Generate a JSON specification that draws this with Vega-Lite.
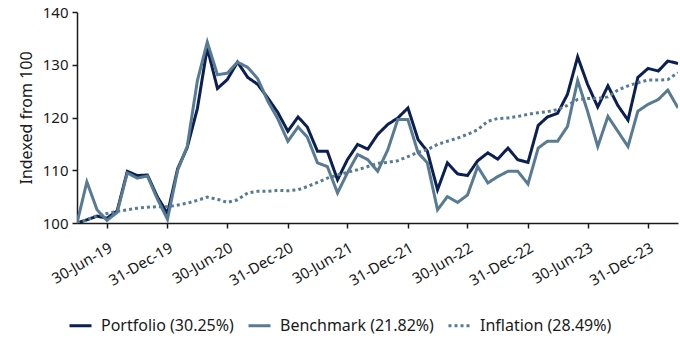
{
  "$schema": "https://vega.github.io/schema/vega-lite/v6.json",
  "width": 601,
  "height": 211,
  "autosize": {"type": "none"},
  "padding": {"left": 77, "top": 12, "right": 2, "bottom": 115},
  "background": "white",
  "config": {
    "font": "Noto Sans",
    "view": {"stroke": null},
    "axis": {"labelFont": "Noto Sans", "titleFont": "Noto Sans", "labelFontSize": 15, "titleFontSize": 16, "labelColor": "#1a1a1a", "titleColor": "#1a1a1a", "titleFontWeight": "normal", "domainColor": "#1a1a1a", "tickColor": "#1a1a1a", "domainWidth": 1.5, "tickWidth": 1.5, "grid": false}
  },
  "data": {
    "values": [
      {"date": "2019-03-31", "Portfolio": 100, "Benchmark": 100, "Inflation": 100},
      {"date": "2019-04-30", "Portfolio": 100.6, "Benchmark": 107.8, "Inflation": 100.6},
      {"date": "2019-05-31", "Portfolio": 101.3, "Benchmark": 102.5, "Inflation": 101.4},
      {"date": "2019-06-30", "Portfolio": 100.9, "Benchmark": 100.5, "Inflation": 101.8},
      {"date": "2019-07-31", "Portfolio": 102.3, "Benchmark": 102.0, "Inflation": 102.2},
      {"date": "2019-08-31", "Portfolio": 109.8, "Benchmark": 109.5, "Inflation": 102.5},
      {"date": "2019-09-30", "Portfolio": 109.0, "Benchmark": 108.5, "Inflation": 102.8},
      {"date": "2019-10-31", "Portfolio": 109.1, "Benchmark": 108.9, "Inflation": 103.0},
      {"date": "2019-11-30", "Portfolio": 105.0, "Benchmark": 104.6, "Inflation": 103.1},
      {"date": "2019-12-31", "Portfolio": 101.8, "Benchmark": 100.7, "Inflation": 103.1},
      {"date": "2020-01-31", "Portfolio": 110.3, "Benchmark": 110.0, "Inflation": 103.4},
      {"date": "2020-02-29", "Portfolio": 114.3, "Benchmark": 114.5, "Inflation": 103.75},
      {"date": "2020-03-31", "Portfolio": 121.7, "Benchmark": 127.0, "Inflation": 104.3},
      {"date": "2020-04-30", "Portfolio": 133.2, "Benchmark": 134.3, "Inflation": 104.9},
      {"date": "2020-05-31", "Portfolio": 125.5, "Benchmark": 128.1, "Inflation": 104.5},
      {"date": "2020-06-30", "Portfolio": 127.2, "Benchmark": 128.4, "Inflation": 103.9},
      {"date": "2020-07-31", "Portfolio": 130.5, "Benchmark": 130.5, "Inflation": 104.4},
      {"date": "2020-08-31", "Portfolio": 127.6, "Benchmark": 129.5, "Inflation": 105.7},
      {"date": "2020-09-30", "Portfolio": 126.3, "Benchmark": 127.4, "Inflation": 106.0},
      {"date": "2020-10-31", "Portfolio": 123.7, "Benchmark": 123.1, "Inflation": 106.0},
      {"date": "2020-11-30", "Portfolio": 121.0, "Benchmark": 119.8, "Inflation": 106.2},
      {"date": "2020-12-31", "Portfolio": 117.4, "Benchmark": 115.5, "Inflation": 106.1},
      {"date": "2021-01-31", "Portfolio": 120.1, "Benchmark": 118.2, "Inflation": 106.3},
      {"date": "2021-02-28", "Portfolio": 118.2, "Benchmark": 116.3, "Inflation": 106.9},
      {"date": "2021-03-31", "Portfolio": 113.6, "Benchmark": 111.4, "Inflation": 107.7},
      {"date": "2021-04-30", "Portfolio": 113.6, "Benchmark": 110.7, "Inflation": 108.5},
      {"date": "2021-05-31", "Portfolio": 108.2, "Benchmark": 105.7, "Inflation": 109.1},
      {"date": "2021-06-30", "Portfolio": 112.0, "Benchmark": 109.5, "Inflation": 109.6},
      {"date": "2021-07-31", "Portfolio": 114.9, "Benchmark": 113.0, "Inflation": 110.1},
      {"date": "2021-08-31", "Portfolio": 114.0, "Benchmark": 112.0, "Inflation": 110.7},
      {"date": "2021-09-30", "Portfolio": 116.8, "Benchmark": 109.8, "Inflation": 111.3},
      {"date": "2021-10-31", "Portfolio": 118.7, "Benchmark": 113.9, "Inflation": 111.5},
      {"date": "2021-11-30", "Portfolio": 119.9, "Benchmark": 119.6, "Inflation": 111.8},
      {"date": "2021-12-31", "Portfolio": 121.8, "Benchmark": 119.6, "Inflation": 112.6},
      {"date": "2022-01-31", "Portfolio": 115.8, "Benchmark": 113.3, "Inflation": 113.4},
      {"date": "2022-02-28", "Portfolio": 113.6, "Benchmark": 111.4, "Inflation": 113.9},
      {"date": "2022-03-31", "Portfolio": 106.3, "Benchmark": 102.5, "Inflation": 114.9},
      {"date": "2022-04-30", "Portfolio": 111.4, "Benchmark": 105.0, "Inflation": 115.5},
      {"date": "2022-05-31", "Portfolio": 109.3, "Benchmark": 103.9, "Inflation": 116.1},
      {"date": "2022-06-30", "Portfolio": 109.0, "Benchmark": 105.3, "Inflation": 116.8},
      {"date": "2022-07-31", "Portfolio": 111.8, "Benchmark": 110.7, "Inflation": 117.7},
      {"date": "2022-08-31", "Portfolio": 113.3, "Benchmark": 107.6, "Inflation": 119.3},
      {"date": "2022-09-30", "Portfolio": 112.1, "Benchmark": 108.8, "Inflation": 119.8},
      {"date": "2022-10-31", "Portfolio": 114.2, "Benchmark": 109.8, "Inflation": 119.9},
      {"date": "2022-11-30", "Portfolio": 112.0, "Benchmark": 109.8, "Inflation": 120.2},
      {"date": "2022-12-31", "Portfolio": 111.5, "Benchmark": 107.4, "Inflation": 120.6},
      {"date": "2023-01-31", "Portfolio": 118.5, "Benchmark": 114.2, "Inflation": 120.9},
      {"date": "2023-02-28", "Portfolio": 120.1, "Benchmark": 115.5, "Inflation": 121.1},
      {"date": "2023-03-31", "Portfolio": 120.8, "Benchmark": 115.5, "Inflation": 121.5},
      {"date": "2023-04-30", "Portfolio": 124.4, "Benchmark": 118.3, "Inflation": 122.3},
      {"date": "2023-05-31", "Portfolio": 131.5, "Benchmark": 127.0, "Inflation": 123.4},
      {"date": "2023-06-30", "Portfolio": 126.3, "Benchmark": 121.2, "Inflation": 123.6},
      {"date": "2023-07-31", "Portfolio": 122.0, "Benchmark": 114.5, "Inflation": 123.6},
      {"date": "2023-08-31", "Portfolio": 126.0, "Benchmark": 120.2, "Inflation": 123.9},
      {"date": "2023-09-30", "Portfolio": 122.3, "Benchmark": 117.4, "Inflation": 125.2},
      {"date": "2023-10-31", "Portfolio": 119.5, "Benchmark": 114.5, "Inflation": 126.0},
      {"date": "2023-11-30", "Portfolio": 127.6, "Benchmark": 121.2, "Inflation": 126.6},
      {"date": "2023-12-31", "Portfolio": 129.3, "Benchmark": 122.5, "Inflation": 127.1},
      {"date": "2024-01-31", "Portfolio": 128.8, "Benchmark": 123.4, "Inflation": 127.1},
      {"date": "2024-02-29", "Portfolio": 130.7, "Benchmark": 125.2, "Inflation": 127.2},
      {"date": "2024-03-31", "Portfolio": 130.25, "Benchmark": 121.82, "Inflation": 128.49}
    ]
  },
  "transform": [
    {"fold": ["Portfolio", "Benchmark", "Inflation"], "as": ["series", "value"]}
  ],
  "mark": {"type": "line", "strokeWidth": 3, "strokeJoin": "miter", "clip": true},
  "encoding": {
    "x": {
      "field": "date",
      "type": "temporal",
      "scale": {"type": "utc", "domain": [{"year": 2019, "month": 3, "date": 31, "utc": true}, {"year": 2024, "month": 3, "date": 31, "utc": true}]},
      "axis": {
        "title": null,
        "format": "%d-%b-%y",
        "labelAngle": -30,
        "labelAlign": "right",
        "labelBaseline": "top",
        "tickSize": 5,
        "labelPadding": 12,
        "labelDx": 6,
        "labelOverlap": false,
        "values": [
          {"year": 2019, "month": 6, "date": 30, "utc": true},
          {"year": 2019, "month": 12, "date": 31, "utc": true},
          {"year": 2020, "month": 6, "date": 30, "utc": true},
          {"year": 2020, "month": 12, "date": 31, "utc": true},
          {"year": 2021, "month": 6, "date": 30, "utc": true},
          {"year": 2021, "month": 12, "date": 31, "utc": true},
          {"year": 2022, "month": 6, "date": 30, "utc": true},
          {"year": 2022, "month": 12, "date": 31, "utc": true},
          {"year": 2023, "month": 6, "date": 30, "utc": true},
          {"year": 2023, "month": 12, "date": 31, "utc": true}
        ]
      }
    },
    "y": {
      "field": "value",
      "type": "quantitative",
      "scale": {"domain": [100, 140], "nice": false, "zero": false},
      "axis": {"title": "Indexed from 100", "values": [100, 110, 120, 130, 140], "tickSize": 5, "labelPadding": 4, "titlePadding": 8}
    },
    "color": {
      "field": "series",
      "type": "nominal",
      "scale": {"domain": ["Portfolio", "Benchmark", "Inflation"], "range": ["#0b1f50", "#587b93", "#587b93"]},
      "legend": {
        "title": null,
        "orient": "none",
        "direction": "horizontal",
        "legendX": -9,
        "legendY": 301,
        "symbolType": "stroke",
        "symbolSize": 484,
        "symbolStrokeWidth": 3,
        "labelFontSize": 16,
        "labelFont": "Noto Sans",
        "labelColor": "#1a1a1a",
        "labelOffset": 8,
        "columnPadding": 8,
        "labelExpr": "datum.label == 'Portfolio' ? 'Portfolio (30.25%)' : datum.label == 'Benchmark' ? 'Benchmark (21.82%)' : 'Inflation (28.49%)'"
      }
    },
    "strokeDash": {
      "field": "series",
      "type": "nominal",
      "scale": {"domain": ["Portfolio", "Benchmark", "Inflation"], "range": [[1, 0], [1, 0], [3, 3]]},
      "legend": null
    }
  }
}
